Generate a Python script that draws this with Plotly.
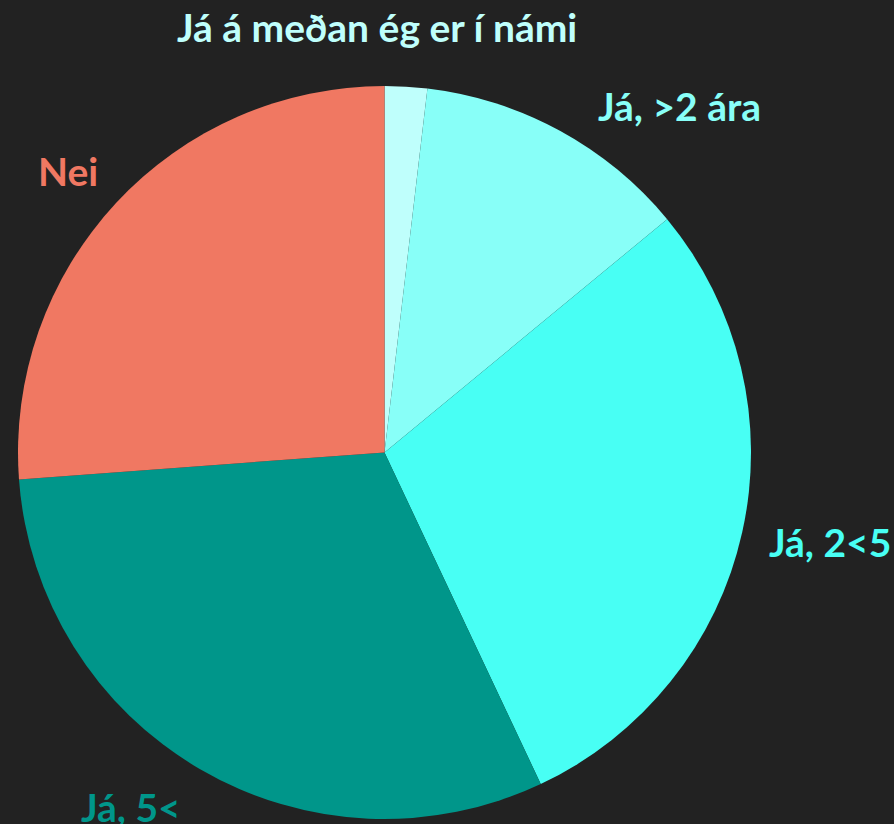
import math
import plotly.graph_objects as go

labels = ["Já á meðan ég er í námi", "Já, >2 ára", "Já, 2<5", "Já, 5<", "Nei"]
values = [2, 13, 31, 33, 28]
colors = ["#bffffc", "#88fff8", "#48fff4", "#00968a", "#f07862"]

W, H = 894, 824
cx, cy, r = 384.5, 452.5, 366.5
GAP = 25
FONT = dict(family="Lato", size=39, weight="bold")
# pixel nudges (x right, y up) mimicking the reference's label collision layout
NUDGE = [(-30, 10), (24, -22), (0, -4), (-4, 9), (2, -10)]

fig = go.Figure(go.Pie(
    labels=labels,
    values=values,
    sort=False,
    direction="clockwise",
    rotation=0,
    marker=dict(colors=colors, line=dict(width=0)),
    textinfo="none",
    showlegend=False,
    hoverinfo="label+value",
    domain=dict(x=[(cx - r) / W, (cx + r) / W], y=[1 - (cy + r) / H, 1 - (cy - r) / H]),
))

# outside labels placed at each slice's mid-angle (computed from the values)
total = sum(values)
cum = 0
for lab, val, col, (nx, ny) in zip(labels, values, colors, NUDGE):
    mid = (cum + val / 2) / total * 2 * math.pi
    cum += val
    s, c = math.sin(mid), math.cos(mid)
    R = r + GAP
    px, py = cx + R * s, cy - R * c
    xa = "left" if s > 0.3 else ("right" if s < -0.3 else "center")
    ya = "bottom" if c > 0.3 else ("top" if c < -0.3 else "middle")
    fig.add_annotation(
        x=px / W, y=1 - py / H, xref="paper", yref="paper",
        text=lab, showarrow=False, xanchor=xa, yanchor=ya,
        xshift=nx, yshift=ny,
        font=dict(color=col, **FONT),
    )

fig.update_layout(
    width=W, height=H,
    margin=dict(l=0, r=0, t=0, b=0),
    paper_bgcolor="#222222",
    plot_bgcolor="#222222",
)

fig.write_html(
    "out.html",
    config={"displayModeBar": False},
    post_script="document.body.style.margin='0';document.body.style.background='#222222';document.body.style.overflow='hidden';",
)
